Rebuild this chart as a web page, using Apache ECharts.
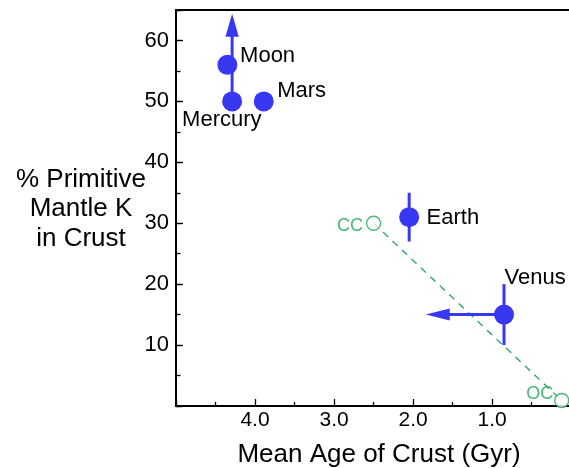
<!DOCTYPE html>
<html><head><meta charset="utf-8">
<script src="https://cdn.jsdelivr.net/npm/echarts@6/dist/echarts.min.js"></script>
<style>html,body{margin:0;padding:0;background:#fff}#c{width:569px;height:468px}</style>
</head><body><div id="c"></div>
<script>
// ---- data ----
const planets = ['Moon', 'Mercury', 'Mars', 'Earth', 'Venus'];
const meanAge = [4.35, 4.29, 3.89, 2.05, 0.85];
const primitiveK = [56, 50, 50, 31, 15];

const errPlanets = ['Earth', 'Venus'];
const errAge = [2.05, 0.85];
const errLow = [27, 10];
const errHigh = [35, 20];

const limitPlanets = ['Moon', 'Venus'];
const limitFromAge = [4.29, 0.85];
const limitFromK = [50, 15];
const limitToAge = [4.29, 1.84];
const limitToK = [64.4, 15];

const crustNames = ['CC', 'OC'];
const crustAge = [2.5, 0.12];
const crustK = [30, 0.9];

const xTickLabels = ['1.0', '2.0', '3.0', '4.0'];
const yTickLabels = ['10', '20', '30', '40', '50', '60'];

// ---- styles ----
const FONT = 'Liberation Sans, Arial, Helvetica, sans-serif';
const BLUE = '#3838f2';
const GREEN = '#1fa25a';
const labelStyle = {
  Moon: { align: 'left', offset: [12.7, -9] },
  Mercury: { align: 'left', offset: [-50, 18.3] },
  Mars: { align: 'left', offset: [13.4, -10] },
  Earth: { align: 'left', offset: [17.4, 0.4] },
  Venus: { align: 'left', offset: [0.6, -36.7] },
  CC: { align: 'right', offset: [-10.6, 3] },
  OC: { align: 'right', offset: [-8.4, -6.5] }
};
const arrowHead = { Moon: [23, 13.3], Venus: [24, 12] };

function labelFor(name, color, size) {
  const s = labelStyle[name];
  return {
    show: true, position: 'inside', formatter: name,
    align: s.align, verticalAlign: 'middle', offset: s.offset,
    color: color, fontSize: size, fontFamily: FONT, textBorderWidth: 0
  };
}

const planetData = planets.map((p, i) => ({
  name: p, value: [meanAge[i], primitiveK[i]], label: labelFor(p, '#000', 22)
}));
const crustData = crustNames.map((c, i) => ({
  name: c, value: [crustAge[i], crustK[i]], label: labelFor(c, GREEN, 18)
}));
const errData = errPlanets.map((p, i) => [errAge[i], errLow[i], errHigh[i]]);
const limitData = limitPlanets.map((p, i) => ({
  name: p, value: [limitFromAge[i], limitFromK[i], limitToAge[i], limitToK[i]]
}));

const chart = echarts.init(document.getElementById('c'), null, { renderer: 'canvas' });
chart.setOption({
  animation: false,
  backgroundColor: '#fff',
  textStyle: { fontFamily: FONT },
  grid: {
    left: 176, top: 10, right: -2.2, bottom: 62,
    containLabel: false, outerBoundsMode: 'none',
    show: true, borderColor: '#000', borderWidth: 2, backgroundColor: 'transparent'
  },
  xAxis: {
    type: 'value', min: 0, max: 5, interval: 1, inverse: true,
    axisLine: { show: true, onZero: false, lineStyle: { color: '#000', width: 2 } },
    axisTick: { show: true, inside: true, length: 7, lineStyle: { color: '#000', width: 1.3 } },
    minorTick: { show: true, splitNumber: 2, length: 4, lineStyle: { color: '#000', width: 1.3 } },
    splitLine: { show: false },
    axisLabel: {
      margin: 3.5, color: '#000', fontSize: 21, fontFamily: FONT,
      formatter: v => { const s = v.toFixed(1); return xTickLabels.indexOf(s) >= 0 ? s : ''; }
    }
  },
  yAxis: [{
    type: 'value', min: 0, max: 65, interval: 10, position: 'left',
    axisLine: { show: true, onZero: false, lineStyle: { color: '#000', width: 2 } },
    axisTick: { show: true, inside: true, length: 7, lineStyle: { color: '#000', width: 1.3 } },
    splitLine: { show: false },
    axisLabel: {
      margin: 7, color: '#000', fontSize: 22, fontFamily: FONT,
      formatter: v => { const s = String(v); return yTickLabels.indexOf(s) >= 0 ? s : ''; }
    }
  }, {
    type: 'value', min: 0, max: 65, interval: 5, position: 'left',
    axisLine: { show: false, onZero: false },
    axisTick: { show: true, inside: true, length: 4.5, lineStyle: { color: '#000', width: 1.3 } },
    splitLine: { show: false },
    axisLabel: { show: false }
  }],
  graphic: [{
    type: 'text', x: 81, y: 209,
    style: {
      text: '% Primitive\nMantle K\nin Crust', fill: '#000', font: '26px ' + FONT,
      align: 'center', verticalAlign: 'middle', lineHeight: 29.5
    }
  }, {
    type: 'text', x: 379, y: 455,
    style: {
      text: 'Mean Age of Crust (Gyr)', fill: '#000', font: '26px ' + FONT,
      align: 'center', verticalAlign: 'middle'
    }
  }],
  series: [{
    type: 'line', name: 'mixing', data: crustNames.map((c, i) => [crustAge[i], crustK[i]]),
    showSymbol: false, symbol: 'none', z: 1,
    lineStyle: { color: GREEN, width: 1.3, type: [7, 6] }
  }, {
    type: 'scatter', name: 'crust', data: crustData, z: 2,
    symbol: 'circle', symbolSize: 14,
    itemStyle: { color: '#fff', borderColor: GREEN, borderWidth: 1.4 }
  }, {
    type: 'custom', name: 'errors', data: errData, z: 3,
    encode: { x: 0, y: [1, 2] },
    renderItem: (params, api) => {
      const a = api.coord([api.value(0), api.value(1)]);
      const b = api.coord([api.value(0), api.value(2)]);
      return { type: 'line', shape: { x1: a[0], y1: a[1], x2: b[0], y2: b[1] },
        style: { stroke: BLUE, lineWidth: 3 } };
    }
  }, {
    type: 'custom', name: 'limits', data: limitData, z: 3,
    encode: { x: [0, 2], y: [1, 3] },
    renderItem: (params, api) => {
      const p0 = api.coord([api.value(0), api.value(1)]);
      const p1 = api.coord([api.value(2), api.value(3)]);
      const dx = p1[0] - p0[0], dy = p1[1] - p0[1];
      const len = Math.hypot(dx, dy), ux = dx / len, uy = dy / len;
      const hs = arrowHead[limitPlanets[params.dataIndex]];
      const hl = hs[0], hw = hs[1] / 2;
      const bx = p1[0] - ux * hl, by = p1[1] - uy * hl;
      return { type: 'group', children: [
        { type: 'line', shape: { x1: p0[0], y1: p0[1], x2: bx + ux, y2: by + uy },
          style: { stroke: BLUE, lineWidth: 3 } },
        { type: 'polygon', shape: { points: [[p1[0], p1[1]], [bx - uy * hw, by + ux * hw], [bx + uy * hw, by - ux * hw]] },
          style: { fill: BLUE } }
      ] };
    }
  }, {
    type: 'scatter', name: 'planets', data: planetData, z: 4,
    symbol: 'circle', symbolSize: 20,
    itemStyle: { color: BLUE, opacity: 1 }
  }]
});
</script></body></html>
